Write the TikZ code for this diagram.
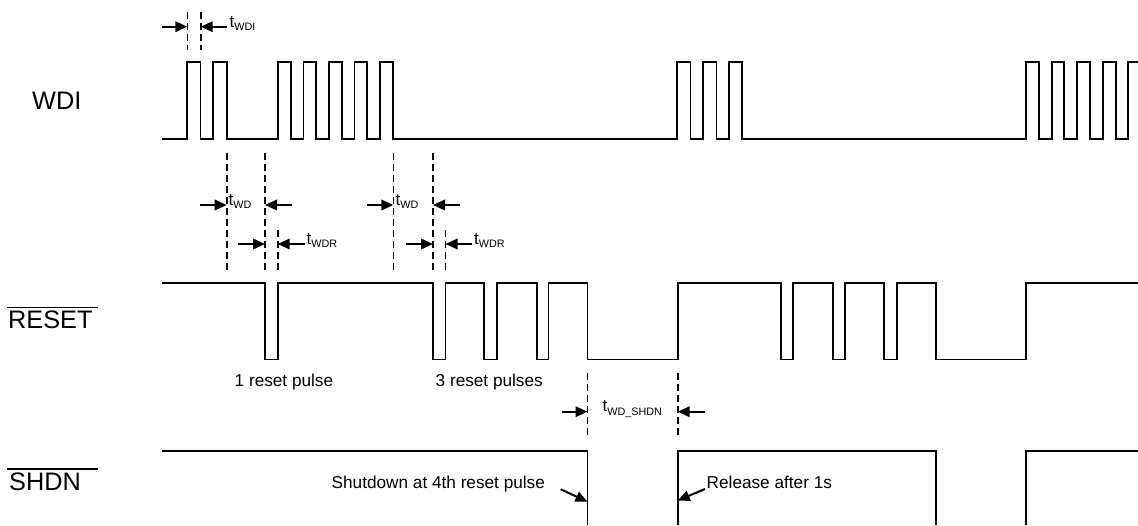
\documentclass[tikz,border=0pt]{standalone}
\usepackage{fontspec}
\setmainfont{Liberation Sans}
\usetikzlibrary{arrows.meta}
\newcommand{\tsub}[1]{{\fontsize{17}{17}\selectfont t}\raisebox{-3.3pt}{\fontsize{10.8}{10.8}\selectfont #1}}
\begin{document}
\begin{tikzpicture}[x=1pt,y=-1pt,
  wave/.style={line width=1.9pt, line join=miter},
  guide/.style={line width=1.6pt, dash pattern=on 6.5pt off 4.5pt},
  dim/.style={line width=2pt, -{Triangle[length=12pt,width=10.5pt]}},
  sig/.style={font=\fontsize{25.3}{25.3}\selectfont, inner sep=0pt, anchor=base west},
  note/.style={font=\fontsize{17.2}{17.2}\selectfont, inner sep=0pt, anchor=base west},
  tlab/.style={inner sep=0pt, anchor=base west}]
\useasboundingbox (0,0) rectangle (1138,525);

% signal names
\node[sig] (wdi) at (32,109) {WDI};
\node[sig] (reset) at (8,328.3) {RESET};
\node[sig] (shdn) at (9,490) {SHDN};
\draw[line width=1.6pt] (7,307.3) -- (98,307.3);
\draw[line width=1.6pt] (7,469) -- (98,469);

% WDI waveform
\draw[wave] (162,139) -| (187,62) -| (200.5,139) -| (213,62) -| (226.7,139)
  -| (278.3,62) -| (291,139) -| (303.5,62) -| (316,139) -| (329.3,62) -| (341.8,139)
  -| (354.5,62) -| (367.2,139) -| (380,62) -| (393.3,139)
  -| (677.3,62) -| (690.5,139) -| (703.3,62) -| (716.5,139) -| (729.3,62) -| (742.3,139)
  -| (1026,62) -| (1039,139) -| (1051.7,62) -| (1064.3,139) -| (1077.3,62) -| (1090,139)
  -| (1102.7,62) -| (1116,139) -| (1128.3,62) -- (1138,62);

% RESET waveform
\draw[wave] (162,283) -| (265,359.5) -| (277.7,283) -| (433,359.5) -| (445.5,283)
  -| (484.3,359.5) -| (496.7,283) -| (536.7,359.5) -| (548.5,283) -| (587.5,359.5)
  -| (677.7,283) -| (781,359.5) -| (793.3,283) -| (832.7,359.5) -| (845,283)
  -| (884.3,359.5) -| (896.7,283) -| (936,359.5) -| (1025.7,283) -- (1138,283);

% SHDN waveform
\draw[wave] (162,451) -| (587.5,525);
\draw[wave] (677.7,525) |- (936,451) -- (936,525);
\draw[wave] (1025.7,525) |- (1138,451);

% guide coordinates
\coordinate (gA1) at (187.3,12);  \coordinate (gA2) at (187.3,50);
\coordinate (gB1) at (200.7,12);  \coordinate (gB2) at (200.7,50);
\coordinate (gC1) at (226.7,153); \coordinate (gC2) at (226.7,270);
\coordinate (gD1) at (265,153);   \coordinate (gD2) at (265,270);
\coordinate (gE1) at (277.7,230); \coordinate (gE2) at (277.7,270);
\coordinate (gF1) at (393.3,153); \coordinate (gF2) at (393.3,270);
\coordinate (gG1) at (433,153);   \coordinate (gG2) at (433,270);
\coordinate (gH1) at (445.5,230); \coordinate (gH2) at (445.5,270);
\coordinate (gI1) at (587.5,373); \coordinate (gI2) at (587.5,436);
\coordinate (gJ1) at (677.7,373); \coordinate (gJ2) at (677.7,436);
\foreach \g in {A,B,C,D,E,F,G,H,I,J} \draw[guide] (g\g1) -- (g\g2);

% dimension arrows
\coordinate (a1s) at (162,26.7);   \coordinate (a1e) at (187.3,26.7);
\coordinate (a2s) at (226.7,26.7); \coordinate (a2e) at (200.7,26.7);
\coordinate (b1s) at (200,205);    \coordinate (b1e) at (226.7,205);
\coordinate (b2s) at (291.7,205);  \coordinate (b2e) at (265,205);
\coordinate (c1s) at (238,244);    \coordinate (c1e) at (265,244);
\coordinate (c2s) at (305,244);    \coordinate (c2e) at (277.7,244);
\coordinate (d1s) at (367.3,205);  \coordinate (d1e) at (393.3,205);
\coordinate (d2s) at (460,205);    \coordinate (d2e) at (433,205);
\coordinate (e1s) at (406,244);    \coordinate (e1e) at (433,244);
\coordinate (e2s) at (472,244);    \coordinate (e2e) at (445.5,244);
\coordinate (f1s) at (561.7,411.7); \coordinate (f1e) at (587.5,411.7);
\coordinate (f2s) at (705,411.7);   \coordinate (f2e) at (677.7,411.7);
\foreach \a in {a1,a2,b1,b2,c1,c2,d1,d2,e1,e2,f1,f2} \draw[dim] (\a s) -- (\a e);

% timing labels
\node[tlab] (twdi) at (229.5,27) {\tsub{WDI}};
\node[tlab] (twd1) at (228.5,205) {\tsub{WD}};
\node[tlab] (twdr1) at (306.5,244) {\tsub{WDR}};
\node[tlab] (twd2) at (395.5,205) {\tsub{WD}};
\node[tlab] (twdr2) at (474,244) {\tsub{WDR}};
\node[tlab] (twds) at (602.5,411.7) {\tsub{WD\_SHDN}};

% notes
\node[note] (n1) at (234.5,386.5) {1 reset pulse};
\node[note] (n3) at (435.5,386.5) {3 reset pulses};
\node[note] (nsd) at (331.5,488.3) {Shutdown at 4th reset pulse};
\node[note] (nrl) at (706.5,488.3) {Release after 1s};
\coordinate (sdS) at (560.7,489.3); \coordinate (sdE) at (587.5,501.7);
\coordinate (rlS) at (705,489);     \coordinate (rlE) at (677.7,500.5);
\draw[dim] (sdS) -- (sdE);
\draw[dim] (rlS) -- (rlE);
\end{tikzpicture}
\end{document}
